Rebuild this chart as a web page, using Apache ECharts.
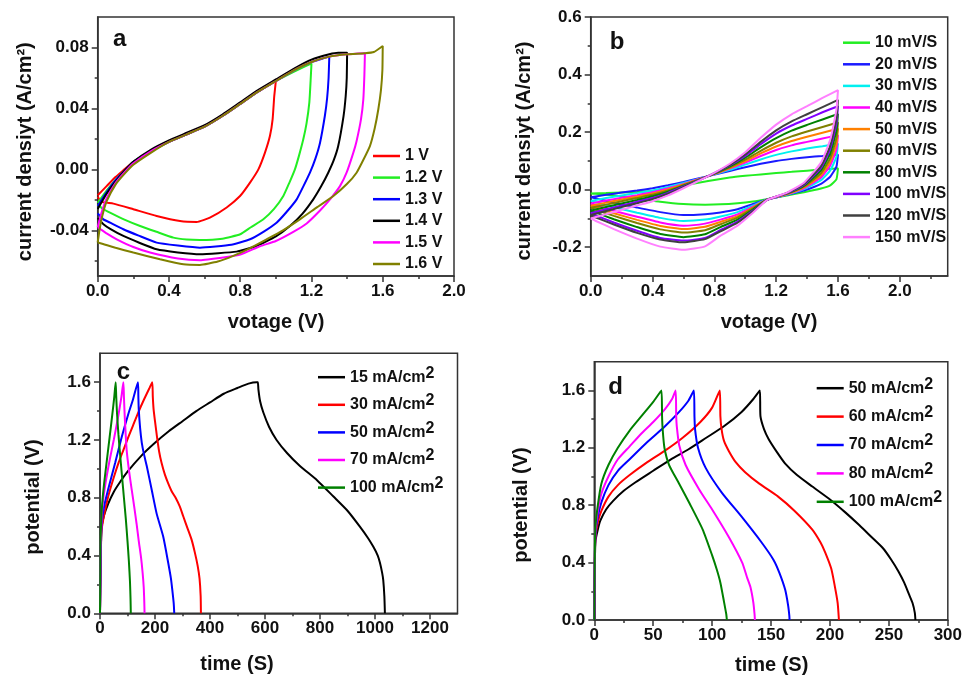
<!DOCTYPE html>
<html><head><meta charset="utf-8">
<script src="https://cdn.jsdelivr.net/npm/echarts@6/dist/echarts.min.js"></script>
<style>html,body{margin:0;padding:0;background:#fff}#c{width:965px;height:678px}</style>
</head><body><div id="c"></div>
<script>
// ---------------- Panel a : CV at different potential windows ----------------
const aLabels = ['1 V', '1.2 V', '1.3 V', '1.4 V', '1.5 V', '1.6 V'];
const aColors = ['#ff0000', '#22ee22', '#0000ff', '#000000', '#ff00ff', '#808000'];
const a1V = [[0,-0.017],[0.05,-0.011],[0.1,-0.005],[0.15,0.0],[0.2,0.005],[0.3,0.012],[0.4,0.018],[0.5,0.023],[0.6,0.028],[0.7,0.035],[0.8,0.043],[0.9,0.051],[0.97,0.056],[1.0,0.058],
  [0.991,0.048],[0.982,0.033],[0.967,0.022],[0.939,0.011],[0.902,0.0],[0.855,-0.0087],[0.799,-0.0175],[0.724,-0.025],[0.63,-0.0317],[0.556,-0.0345],[0.462,-0.0339],[0.331,-0.0306],[0.2,-0.0262],[0.088,-0.0225],[0.022,-0.0214],[0,-0.018]];
const a12V = [[0,-0.022],[0.05,-0.014],[0.1,-0.007],[0.15,-0.001],[0.2,0.005],[0.3,0.012],[0.4,0.018],[0.5,0.023],[0.6,0.028],[0.7,0.035],[0.8,0.043],[0.9,0.051],[1.0,0.058],[1.1,0.064],[1.17,0.068],[1.2,0.0695],
  [1.195,0.058],[1.188,0.044],[1.172,0.03],[1.154,0.0197],[1.13,0.009],[1.107,0.0],[1.075,-0.009],[1.042,-0.0175],[0.99,-0.026],[0.93,-0.0328],[0.86,-0.038],[0.8,-0.0426],[0.7,-0.0455],[0.574,-0.0463],[0.5,-0.046],[0.425,-0.0448],[0.33,-0.041],[0.238,-0.0372],[0.15,-0.033],[0.069,-0.0284],[0.03,-0.026],[0,-0.023]];
const a13V = [[0,-0.024],[0.05,-0.015],[0.1,-0.007],[0.15,-0.001],[0.2,0.005],[0.3,0.012],[0.4,0.018],[0.5,0.023],[0.6,0.028],[0.7,0.035],[0.8,0.043],[0.9,0.051],[1.0,0.058],[1.1,0.065],[1.2,0.0705],[1.27,0.073],[1.3,0.074],
  [1.296,0.06],[1.288,0.047],[1.275,0.035],[1.248,0.0175],[1.222,0.007],[1.192,-0.002],[1.155,-0.011],[1.117,-0.0197],[1.06,-0.028],[1.004,-0.035],[0.93,-0.041],[0.855,-0.0459],[0.75,-0.0495],[0.574,-0.0514],[0.45,-0.05],[0.331,-0.0481],[0.23,-0.0435],[0.144,-0.0393],[0.07,-0.035],[0.032,-0.0328],[0,-0.029]];
const a14V = [[0,-0.026],[0.05,-0.016],[0.1,-0.008],[0.15,-0.001],[0.2,0.005],[0.3,0.013],[0.4,0.019],[0.5,0.024],[0.6,0.029],[0.7,0.036],[0.8,0.044],[0.9,0.052],[1.0,0.059],[1.1,0.066],[1.2,0.072],[1.3,0.0755],[1.35,0.0765],[1.4,0.0765],
  [1.398,0.06],[1.392,0.048],[1.38,0.035],[1.35,0.0153],[1.325,0.006],[1.294,-0.0022],[1.255,-0.011],[1.21,-0.0197],[1.15,-0.029],[1.079,-0.0372],[1.0,-0.044],[0.892,-0.0503],[0.78,-0.054],[0.574,-0.0557],[0.45,-0.0545],[0.331,-0.0525],[0.23,-0.048],[0.144,-0.0437],[0.07,-0.039],[0.032,-0.036],[0,-0.032]];
const a15V = [[0,-0.038],[0.02,-0.029],[0.05,-0.019],[0.1,-0.009],[0.15,-0.002],[0.2,0.004],[0.3,0.012],[0.4,0.018],[0.5,0.023],[0.6,0.028],[0.7,0.035],[0.8,0.043],[0.9,0.051],[1.0,0.058],[1.1,0.065],[1.2,0.0705],[1.3,0.074],[1.4,0.0755],[1.5,0.0762],
  [1.497,0.062],[1.491,0.0459],[1.478,0.033],[1.453,0.0185],[1.435,0.011],[1.397,-0.0022],[1.36,-0.011],[1.304,-0.0197],[1.248,-0.027],[1.173,-0.0355],[1.098,-0.041],[1.0,-0.047],[0.911,-0.0505],[0.8,-0.056],[0.724,-0.0575],[0.574,-0.0596],[0.45,-0.0585],[0.294,-0.0546],[0.2,-0.051],[0.107,-0.0459],[0.05,-0.042],[0.013,-0.039],[0,-0.038]];
const a16V = [[0,-0.048],[0.01,-0.04],[0.025,-0.031],[0.05,-0.021],[0.1,-0.01],[0.15,-0.003],[0.2,0.003],[0.3,0.011],[0.4,0.018],[0.5,0.023],[0.6,0.028],[0.7,0.035],[0.8,0.043],[0.9,0.051],[1.0,0.058],[1.1,0.065],[1.2,0.0705],[1.3,0.074],[1.4,0.0755],[1.5,0.0762],[1.55,0.077],[1.6,0.081],
  [1.598,0.065],[1.59,0.052],[1.575,0.0393],[1.555,0.027],[1.528,0.0153],[1.49,0.006],[1.453,-0.0022],[1.4,-0.0095],[1.323,-0.0175],[1.23,-0.025],[1.135,-0.0328],[1.04,-0.04],[0.948,-0.0459],[0.85,-0.052],[0.761,-0.0568],[0.674,-0.0605],[0.574,-0.0627],[0.481,-0.0623],[0.35,-0.059],[0.2,-0.0546],[0.1,-0.0515],[0.03,-0.049],[0,-0.048]];
const aData = [a1V, a12V, a13V, a14V, a15V, a16V];
const aXTicks = [0, 0.4, 0.8, 1.2, 1.6, 2.0], aXMinor = [0.2, 0.6, 1.0, 1.4, 1.8];
const aYTicks = [-0.04, 0, 0.04, 0.08], aYMinor = [-0.06, -0.02, 0.02, 0.06];

// ---------------- Panel b : CV at different scan rates ----------------
const bLabels = ['10 mV/S','20 mV/S','30 mV/S','40 mV/S','50 mV/S','60 mV/S','80 mV/S','100 mV/S','120 mV/S','150 mV/S'];
const bColors = ['#22ee22','#1a1aff','#00f0f0','#ff00ff','#ff8000','#808000','#008000','#8000ff','#404040','#ff80ff'];
const bUpV  = [0,0.1,0.2,0.3,0.4,0.5,0.6,0.76,0.9,1.0,1.1,1.2,1.3,1.4,1.5,1.6];
const bLowV = [1.59,1.55,1.49,1.38,1.27,1.14,1.05,0.95,0.84,0.74,0.6,0.45,0.3,0.15,0.03,0];
const b10Up  = [-0.013,-0.012,-0.01,-0.008,-0.005,0.004,0.015,0.03,0.042,0.048,0.053,0.058,0.062,0.066,0.07,0.074];
const b10Low = [0.036,0.015,0.004,-0.009,-0.02,-0.033,-0.041,-0.047,-0.051,-0.052,-0.05,-0.042,-0.03,-0.02,-0.014,-0.013];
const b20Up  = [-0.026,-0.018,-0.01,-0.003,0.005,0.015,0.027,0.047,0.065,0.078,0.09,0.1,0.107,0.113,0.117,0.122];
const b20Low = [0.08,0.045,0.02,-0.003,-0.018,-0.034,-0.05,-0.068,-0.079,-0.085,-0.088,-0.078,-0.062,-0.045,-0.03,-0.026];
const b30Up  = [-0.039,-0.029,-0.02,-0.012,-0.003,0.009,0.023,0.047,0.069,0.087,0.105,0.121,0.133,0.143,0.151,0.16];
const b30Low = [0.114,0.067,0.033,0.002,-0.017,-0.034,-0.055,-0.078,-0.093,-0.104,-0.109,-0.098,-0.08,-0.061,-0.043,-0.039];
const b40Up  = [-0.048,-0.038,-0.028,-0.019,-0.009,0.005,0.02,0.047,0.073,0.094,0.117,0.138,0.154,0.166,0.178,0.189];
const b40Low = [0.139,0.084,0.042,0.005,-0.016,-0.035,-0.059,-0.086,-0.104,-0.118,-0.125,-0.114,-0.094,-0.073,-0.053,-0.048];
const b50Up  = [-0.056,-0.045,-0.034,-0.024,-0.013,0.001,0.018,0.047,0.075,0.099,0.126,0.15,0.169,0.184,0.198,0.212];
const b50Low = [0.159,0.097,0.05,0.008,-0.015,-0.035,-0.062,-0.092,-0.112,-0.129,-0.137,-0.126,-0.105,-0.082,-0.061,-0.056];
const b60Up  = [-0.063,-0.052,-0.04,-0.029,-0.018,-0.003,0.016,0.047,0.078,0.104,0.135,0.163,0.185,0.202,0.218,0.234];
const b60Low = [0.179,0.11,0.057,0.011,-0.014,-0.035,-0.065,-0.097,-0.12,-0.141,-0.149,-0.138,-0.116,-0.091,-0.069,-0.063];
const b80Up  = [-0.073,-0.06,-0.048,-0.036,-0.023,-0.007,0.013,0.047,0.081,0.111,0.147,0.179,0.205,0.225,0.244,0.263];
const b80Low = [0.205,0.126,0.067,0.014,-0.013,-0.035,-0.069,-0.104,-0.13,-0.155,-0.165,-0.154,-0.13,-0.103,-0.079,-0.073];
const b100Up  = [-0.082,-0.068,-0.055,-0.042,-0.029,-0.011,0.011,0.047,0.084,0.117,0.158,0.195,0.223,0.246,0.269,0.29];
const b100Low = [0.229,0.142,0.076,0.017,-0.012,-0.036,-0.073,-0.111,-0.14,-0.168,-0.177,-0.168,-0.143,-0.114,-0.089,-0.082];
const b120Up  = [-0.088,-0.074,-0.06,-0.047,-0.033,-0.014,0.009,0.047,0.086,0.122,0.166,0.206,0.237,0.262,0.287,0.312];
const b120Low = [0.246,0.153,0.082,0.02,-0.011,-0.036,-0.075,-0.115,-0.145,-0.172,-0.183,-0.173,-0.15,-0.121,-0.096,-0.088];
const b150Up  = [-0.1,-0.085,-0.07,-0.055,-0.04,-0.02,0.005,0.047,0.09,0.13,0.18,0.226,0.262,0.29,0.319,0.346];
const b150Low = [0.278,0.174,0.094,0.024,-0.01,-0.036,-0.08,-0.125,-0.16,-0.197,-0.209,-0.198,-0.17,-0.137,-0.108,-0.1];
const bUp  = [b10Up, b20Up, b30Up, b40Up, b50Up, b60Up, b80Up, b100Up, b120Up, b150Up];
const bLow = [b10Low, b20Low, b30Low, b40Low, b50Low, b60Low, b80Low, b100Low, b120Low, b150Low];
const bXTicks = [0, 0.4, 0.8, 1.2, 1.6, 2.0], bXMinor = [0.2, 0.6, 1.0, 1.4, 1.8, 2.2];
const bYTicks = [-0.2, 0, 0.2, 0.4, 0.6], bYMinor = [-0.1, 0.1, 0.3, 0.5];

// ---------------- Panel c : GCD at different current densities ----------------
const cLabels = ['15 mA/cm2', '30 mA/cm2', '50 mA/cm2', '70 mA/cm2', '100 mA/cm2'];
const cColors = ['#000000', '#ff0000', '#0000ff', '#ff00ff', '#008000'];
const c15 = [[0,0],[2,0.3],[4,0.52],[6,0.6],[15,0.68],[30,0.76],[50,0.84],[70,0.9],[100,0.98],[150,1.09],[200,1.18],[250,1.26],[300,1.33],[350,1.4],[400,1.46],[450,1.52],[500,1.56],[540,1.59],[570,1.6],[574,1.6],[576,1.55],[582,1.47],[594,1.39],[615,1.29],[642,1.2],[680,1.11],[727,1.02],[790,0.92],[848,0.81],[900,0.71],[945,0.6],[975,0.52],[994,0.46],[1010,0.4],[1018,0.35],[1026,0.28],[1030,0.23],[1034,0.12],[1036,0]];
const c30 = [[0,0],[2,0.3],[4,0.5],[6,0.58],[15,0.68],[30,0.81],[50,0.94],[67,1.04],[85,1.13],[103,1.22],[120,1.3],[139,1.39],[160,1.48],[180,1.56],[190,1.6],[192,1.5],[195,1.41],[200,1.33],[206,1.24],[215,1.12],[224,1.04],[236,0.96],[248,0.9],[262,0.84],[275,0.8],[290,0.74],[303,0.67],[318,0.59],[333,0.51],[345,0.42],[355,0.33],[362,0.24],[366,0.12],[367,0]];
const c50 = [[0,0],[2,0.3],[4,0.52],[6,0.62],[15,0.74],[30,0.86],[55,1.04],[79,1.22],[103,1.38],[120,1.48],[138,1.6],[139.5,1.5],[141,1.41],[146,1.28],[152,1.18],[160,1.1],[170,1.02],[188,0.855],[206,0.69],[230,0.53],[248,0.35],[258,0.24],[263,0.16],[268,0.07],[270,0]];
const c70 = [[0,0],[1.5,0.3],[3,0.5],[5,0.62],[10,0.76],[20,0.9],[35,1.06],[50,1.2],[65,1.35],[78,1.5],[85,1.6],[87,1.5],[90,1.36],[97,1.13],[106,0.98],[115,0.86],[125,0.73],[133,0.62],[141,0.5],[149,0.39],[155,0.28],[159,0.18],[161,0.08],[162,0]];
const c100 = [[0,0],[1,0.3],[2,0.5],[4,0.62],[8,0.76],[15,0.9],[25,1.06],[35,1.22],[45,1.38],[52,1.5],[57,1.6],[59,1.5],[62,1.38],[67,1.24],[73,1.1],[80,0.95],[87,0.8],[94,0.65],[100,0.5],[105,0.36],[109,0.22],[111,0.1],[112,0]];
const cData = [c15, c30, c50, c70, c100];
const cXTicks = [0, 200, 400, 600, 800, 1000, 1200], cXMinor = [100, 300, 500, 700, 900, 1100];
const cYTicks = [0, 0.4, 0.8, 1.2, 1.6], cYMinor = [0.2, 0.6, 1.0, 1.4];

// ---------------- Panel d : GCD at different current densities ----------------
const dLabels = ['50 mA/cm2', '60 mA/cm2', '70 mA/cm2', '80 mA/cm2', '100 mA/cm2'];
const dColors = ['#000000', '#ff0000', '#0000ff', '#ff00ff', '#008000'];
const d50 = [[0,0],[0.5,0.4],[1,0.55],[3,0.63],[5,0.69],[10,0.77],[16,0.83],[25,0.9],[35,0.96],[50,1.04],[65,1.12],[80,1.19],[95,1.27],[110,1.35],[125,1.45],[135,1.54],[140.5,1.6],[141,1.42],[144,1.33],[148,1.26],[155,1.17],[162,1.09],[172,1.01],[185,0.93],[200,0.84],[213,0.75],[225,0.66],[235,0.58],[245,0.5],[252,0.42],[258,0.34],[263,0.26],[267,0.18],[270,0.12],[272,0.05],[272.5,0]];
const d60 = [[0,0],[0.5,0.45],[1,0.58],[3,0.68],[6,0.76],[12,0.86],[20,0.94],[30,1.01],[45,1.1],[60,1.18],[75,1.27],[90,1.38],[100,1.48],[106.5,1.6],[107,1.42],[108,1.33],[110,1.25],[114,1.18],[120,1.1],[128,1.03],[140,0.95],[156,0.86],[170,0.76],[185,0.63],[192,0.54],[196,0.47],[201,0.36],[204,0.24],[206.5,0.12],[207.6,0]];
const d70 = [[0,0],[0.5,0.45],[1,0.6],[3,0.72],[6,0.82],[12,0.94],[20,1.04],[30,1.12],[45,1.24],[60,1.35],[72,1.45],[80,1.53],[84.5,1.6],[85,1.42],[85.5,1.33],[88,1.2],[94.5,1.06],[108,0.89],[125,0.72],[142,0.54],[152,0.42],[157,0.33],[162,0.21],[164.5,0.1],[165.5,0.03],[165.7,0]];
const d80 = [[0,0],[0.5,0.45],[1,0.62],[3,0.76],[6,0.88],[12,1.0],[20,1.12],[30,1.21],[40,1.3],[50,1.38],[60,1.47],[66,1.54],[69,1.6],[69.5,1.42],[70,1.35],[72,1.22],[77.5,1.08],[89,0.91],[100,0.77],[114,0.58],[125.5,0.4],[129.5,0.3],[132.5,0.23],[135,0.12],[136,0.04],[136.3,0]];
const d100 = [[0,0],[0.5,0.5],[1,0.65],[3,0.8],[6,0.95],[12,1.08],[20,1.2],[30,1.32],[40,1.42],[50,1.52],[57,1.6],[57.5,1.42],[58,1.33],[59.5,1.2],[63.5,1.08],[72,0.95],[81,0.81],[92,0.63],[100,0.45],[104,0.35],[107,0.26],[110,0.13],[112,0.04],[112.5,0]];
const dData = [d50, d60, d70, d80, d100];
const dXTicks = [0, 50, 100, 150, 200, 250, 300], dXMinor = [25, 75, 125, 175, 225, 275];
const dYTicks = [0, 0.4, 0.8, 1.2, 1.6], dYMinor = [0.2, 0.6, 1.0, 1.4];

// ---------------- building the chart ----------------
const FONT = '"Liberation Sans", Arial, Helvetica, sans-serif';
const AX = '#333';

function axisPair(dim, grid, min, max, major, minor, dec) {
  const pos = dim === 'x' ? 'bottom' : 'left';
  const main = {
    type: 'value', gridIndex: grid, min: min, max: max, position: pos,
    axisLine: { show: true, onZero: false, lineStyle: { color: AX, width: 1.5 } },
    axisTick: { show: true, inside: false, length: 6, customValues: major, lineStyle: { color: AX, width: 1.5 } },
    axisLabel: { show: true, customValues: major, margin: dim === 'x' ? 7 : 9,
      fontSize: 17, fontWeight: 'bold', fontFamily: FONT, color: '#111',
      formatter: function (v) { return Number(v).toFixed(dec); } },
    splitLine: { show: false }, minorTick: { show: false }
  };
  const mnr = {
    type: 'value', gridIndex: grid, min: min, max: max, position: pos,
    axisLine: { show: false, onZero: false },
    axisTick: { show: true, inside: false, length: 3, customValues: minor, lineStyle: { color: AX, width: 1.5 } },
    axisLabel: { show: false }, splitLine: { show: false }
  };
  return [main, mnr];
}

const grids = [
  { left: 97.7, top: 17, width: 356.3, height: 259 },
  { left: 590.7, top: 17, width: 357, height: 259 },
  { left: 100, top: 353.3, width: 357.5, height: 260 },
  { left: 594.3, top: 361.7, width: 356, height: 258.3 }
].map(g => Object.assign(g, { show: true, borderColor: AX, borderWidth: 1.5, backgroundColor: 'transparent' }));

const xAxes = [].concat(
  axisPair('x', 0, 0, 2.0, aXTicks, aXMinor, 1),
  axisPair('x', 1, 0, 2.31, bXTicks, bXMinor, 1),
  axisPair('x', 2, 0, 1300, cXTicks, cXMinor, 0),
  axisPair('x', 3, 0, 300, dXTicks, dXMinor, 0)
);
const yAxes = [].concat(
  axisPair('y', 0, -0.07, 0.10, aYTicks, aYMinor, 2),
  axisPair('y', 1, -0.3, 0.6, bYTicks, bYMinor, 1),
  axisPair('y', 2, 0, 1.8, cYTicks, cYMinor, 1),
  axisPair('y', 3, 0, 1.8, dYTicks, dYMinor, 1)
);

function lineSeries(panel, label, color, data, axisIdx, smooth) {
  return {
    type: 'line', name: panel + '|' + label, data: data,
    xAxisIndex: axisIdx, yAxisIndex: axisIdx,
    symbol: 'none', showSymbol: false, smooth: smooth, silent: true, clip: true,
    lineStyle: { color: color, width: 2 }, itemStyle: { color: color }
  };
}

const series = [];
aLabels.forEach((l, i) => series.push(lineSeries('a', l, aColors[i], aData[i], 0, 0.15)));
bLabels.forEach((l, i) => {
  const pts = bUpV.map((v, k) => [v, bUp[i][k]]).concat(bLowV.map((v, k) => [v, bLow[i][k]]));
  series.push(lineSeries('b', l, bColors[i], pts, 2, 0.15));
});
cLabels.forEach((l, i) => series.push(lineSeries('c', l, cColors[i], cData[i], 4, 0.2)));
dLabels.forEach((l, i) => series.push(lineSeries('d', l, dColors[i], dData[i], 6, 0.2)));

const txt = { fontSize: 16, fontWeight: 'bold', fontFamily: FONT, color: '#111' };
function plainLegend(panel, labels, left, top, gap) {
  return {
    data: labels.map(l => panel + '|' + l), orient: 'vertical', left: left, top: top,
    icon: 'rect', itemWidth: 27, itemHeight: 2.5, itemGap: gap, padding: 0, selectedMode: false,
    textStyle: Object.assign({ lineHeight: 16 }, txt),
    formatter: function (n) { return n.split('|')[1]; }
  };
}
function supLegend(panel, labels, left, top, gap) {
  return {
    data: labels.map(l => panel + '|' + l), orient: 'vertical', left: left, top: top,
    icon: 'rect', itemWidth: 27, itemHeight: 2.5, itemGap: gap, padding: 0, selectedMode: false,
    textStyle: Object.assign({
      rich: {
        n: Object.assign({ lineHeight: 24, verticalAlign: 'middle' }, txt),
        s: Object.assign({ lineHeight: 24, verticalAlign: 'top' }, txt, { fontSize: 16 })
      }
    }, txt),
    formatter: function (n) { const s = n.split('|')[1]; return '{n|' + s.slice(0, -1) + '}{s|' + s.slice(-1) + '}'; }
  };
}

const legends = [
  plainLegend('a', aLabels, 373, 148, 5.6),
  plainLegend('b', bLabels, 843, 34.7, 5.6),
  supLegend('c', cLabels, 318, 365.2, 7.6),
  supLegend('d', dLabels, 816.7, 376.2, 8.4)
];

function gText(str, x, y, size, rot) {
  return { type: 'text', x: x, y: y, rotation: rot || 0, silent: true,
    style: { text: str, x: 0, y: 0, fontSize: size, fontWeight: 'bold', fontFamily: FONT, fill: '#111',
      align: 'center', verticalAlign: 'middle' } };
}
const R = Math.PI / 2;
const graphics = [
  gText('a', 119.7, 39, 24), gText('b', 617, 42, 24), gText('c', 123.5, 372, 24), gText('d', 615.5, 387, 24),
  gText('current densiyt (A/cm²)', 25, 151.7, 20, R),
  gText('current densiyt (A/cm²)', 524, 151, 20, R),
  gText('potential (V)', 33, 497, 20, R),
  gText('potential (V)', 521.7, 505, 20, R),
  gText('votage (V)', 276, 322, 20), gText('votage (V)', 769, 322, 20),
  gText('time (S)', 237, 664, 20), gText('time (S)', 771.7, 665, 20)
];

const chart = echarts.init(document.getElementById('c'), null, { renderer: 'canvas' });
chart.setOption({
  animation: false, backgroundColor: '#fff',
  grid: grids, xAxis: xAxes, yAxis: yAxes, series: series, legend: legends, graphic: graphics
});
</script></body></html>
